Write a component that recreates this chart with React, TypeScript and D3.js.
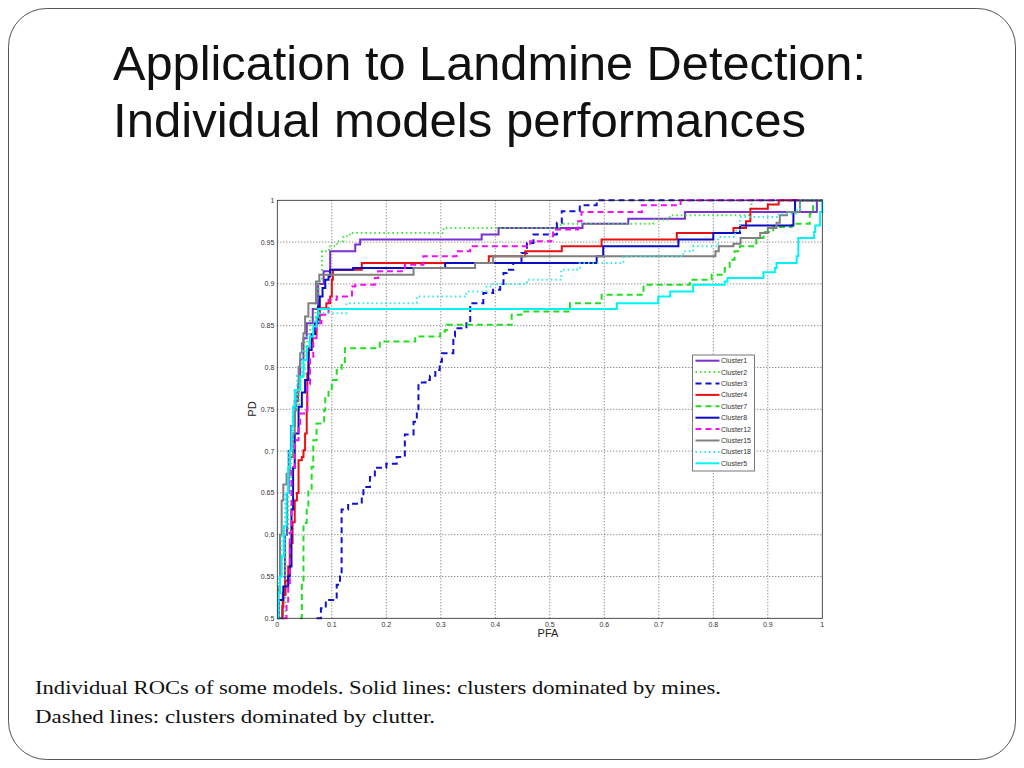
import React from 'react';
import * as d3 from 'd3';

type Pt = [number, number];

// ROC points: [PFA where the curve rises, PD after the rise]
const cluster1: Pt[] = [[0.005,0.5],[0.01,0.53],[0.014,0.6],[0.018,0.65],[0.021,0.7],[0.025,0.73],[0.032,0.76],[0.038,0.78],[0.042,0.81],[0.048,0.835],[0.054,0.853],[0.065,0.87],[0.075,0.9],[0.085,0.915],[0.097,0.939],[0.143,0.947],[0.152,0.953],[0.375,0.959],[0.406,0.967],[0.56,0.972],[0.644,0.978],[0.748,0.986],[0.99,1],[1,1]];
const cluster2: Pt[] = [[0.01,0.5],[0.015,0.6],[0.02,0.65],[0.025,0.7],[0.03,0.75],[0.04,0.79],[0.05,0.83],[0.06,0.86],[0.07,0.88],[0.076,0.903],[0.082,0.939],[0.095,0.945],[0.109,0.951],[0.121,0.957],[0.133,0.961],[0.305,0.967],[0.52,0.972],[0.69,0.977],[0.72,0.982],[0.868,0.99],[0.87,1],[1,1]];
const cluster3: Pt[] = [[0.072,0.5],[0.08,0.512],[0.089,0.522],[0.109,0.54],[0.115,0.55],[0.118,0.63],[0.13,0.637],[0.155,0.645],[0.158,0.657],[0.17,0.669],[0.179,0.68],[0.2,0.685],[0.219,0.693],[0.234,0.72],[0.25,0.735],[0.256,0.75],[0.259,0.782],[0.272,0.785],[0.28,0.79],[0.29,0.797],[0.298,0.807],[0.302,0.817],[0.323,0.837],[0.326,0.847],[0.347,0.853],[0.354,0.877],[0.378,0.889],[0.396,0.893],[0.409,0.9],[0.415,0.913],[0.421,0.917],[0.433,0.925],[0.448,0.937],[0.458,0.949],[0.47,0.959],[0.513,0.973],[0.522,0.987],[0.555,0.994],[0.586,1],[1,1]];
const cluster4: Pt[] = [[0.008,0.5],[0.009,0.514],[0.011,0.528],[0.015,0.545],[0.02,0.562],[0.023,0.59],[0.028,0.615],[0.032,0.641],[0.036,0.65],[0.039,0.689],[0.045,0.693],[0.048,0.701],[0.051,0.721],[0.054,0.749],[0.055,0.793],[0.058,0.825],[0.065,0.84],[0.072,0.855],[0.078,0.871],[0.09,0.877],[0.097,0.885],[0.1,0.905],[0.102,0.917],[0.155,0.925],[0.388,0.933],[0.455,0.939],[0.522,0.945],[0.595,0.953],[0.733,0.961],[0.837,0.967],[0.86,0.975],[0.868,0.99],[0.9,0.995],[0.92,1],[1,1]];
const cluster7: Pt[] = [[0.042,0.5],[0.045,0.54],[0.048,0.614],[0.054,0.633],[0.057,0.653],[0.063,0.681],[0.066,0.713],[0.072,0.733],[0.086,0.749],[0.088,0.765],[0.094,0.773],[0.1,0.785],[0.109,0.797],[0.118,0.803],[0.124,0.823],[0.188,0.831],[0.253,0.837],[0.299,0.843],[0.308,0.845],[0.311,0.851],[0.43,0.863],[0.448,0.867],[0.537,0.877],[0.595,0.887],[0.672,0.899],[0.757,0.905],[0.797,0.911],[0.821,0.919],[0.83,0.929],[0.839,0.939],[0.849,0.945],[0.879,0.955],[0.892,0.962],[0.91,0.968],[0.944,0.972],[0.977,0.984],[0.983,1],[1,1]];
const cluster8: Pt[] = [[0,0.5],[0.003,0.522],[0.011,0.538],[0.02,0.55],[0.023,0.562],[0.026,0.63],[0.029,0.68],[0.032,0.721],[0.039,0.753],[0.045,0.77],[0.051,0.785],[0.057,0.821],[0.063,0.84],[0.069,0.853],[0.075,0.873],[0.078,0.885],[0.083,0.895],[0.088,0.905],[0.094,0.909],[0.097,0.917],[0.139,0.919],[0.308,0.925],[0.586,0.933],[0.598,0.945],[0.736,0.953],[0.8,0.961],[0.849,0.97],[0.947,0.986],[0.95,1],[1,1]];
const cluster12: Pt[] = [[0.012,0.5],[0.017,0.52],[0.02,0.538],[0.023,0.602],[0.026,0.681],[0.032,0.713],[0.039,0.729],[0.042,0.745],[0.051,0.749],[0.055,0.78],[0.06,0.81],[0.066,0.835],[0.072,0.853],[0.081,0.863],[0.088,0.865],[0.094,0.881],[0.109,0.885],[0.137,0.897],[0.143,0.899],[0.179,0.907],[0.185,0.915],[0.234,0.923],[0.268,0.933],[0.329,0.939],[0.354,0.945],[0.464,0.951],[0.503,0.957],[0.506,0.965],[0.552,0.975],[0.558,0.986],[0.669,0.994],[0.74,1],[1,1]];
const cluster15: Pt[] = [[0,0.5],[0.002,0.538],[0.005,0.6],[0.008,0.641],[0.011,0.66],[0.017,0.673],[0.023,0.693],[0.029,0.721],[0.032,0.749],[0.035,0.77],[0.039,0.801],[0.042,0.817],[0.045,0.829],[0.048,0.841],[0.051,0.861],[0.057,0.877],[0.071,0.903],[0.077,0.911],[0.25,0.919],[0.363,0.925],[0.396,0.933],[0.804,0.939],[0.81,0.945],[0.837,0.948],[0.85,0.955],[0.886,0.961],[0.9,0.967],[0.916,0.973],[0.922,0.982],[0.935,0.986],[0.959,1],[1,1]];
const cluster18: Pt[] = [[0,0.5],[0.003,0.55],[0.008,0.6],[0.014,0.65],[0.02,0.7],[0.028,0.75],[0.036,0.79],[0.045,0.82],[0.055,0.84],[0.065,0.855],[0.078,0.865],[0.127,0.877],[0.256,0.885],[0.347,0.891],[0.384,0.897],[0.395,0.9],[0.458,0.905],[0.521,0.917],[0.55,0.919],[0.555,0.925],[0.635,0.933],[0.745,0.939],[0.763,0.945],[0.809,0.956],[0.84,0.964],[0.849,0.98],[0.92,0.984],[0.953,0.99],[0.96,1],[1,1]];
const cluster5: Pt[] = [[0,0.5],[0.002,0.53],[0.005,0.55],[0.008,0.574],[0.012,0.61],[0.017,0.65],[0.02,0.68],[0.023,0.701],[0.026,0.729],[0.029,0.753],[0.032,0.773],[0.042,0.789],[0.048,0.809],[0.054,0.825],[0.06,0.837],[0.066,0.849],[0.072,0.861],[0.075,0.87],[0.623,0.877],[0.699,0.885],[0.721,0.891],[0.763,0.899],[0.821,0.903],[0.826,0.907],[0.892,0.914],[0.913,0.919],[0.916,0.925],[0.953,0.933],[0.956,0.955],[0.985,0.962],[0.987,0.97],[0.996,0.986],[1,1]];

const seriesNames = ['Cluster1', 'Cluster2', 'Cluster3', 'Cluster4', 'Cluster7', 'Cluster8', 'Cluster12', 'Cluster15', 'Cluster18', 'Cluster5'];
const seriesValues = [cluster1, cluster2, cluster3, cluster4, cluster7, cluster8, cluster12, cluster15, cluster18, cluster5];

const xTickValues = [0, 0.1, 0.2, 0.3, 0.4, 0.5, 0.6, 0.7, 0.8, 0.9, 1];
const xTickLabels = ['0', '0.1', '0.2', '0.3', '0.4', '0.5', '0.6', '0.7', '0.8', '0.9', '1'];
const yTickValues = [0.5, 0.55, 0.6, 0.65, 0.7, 0.75, 0.8, 0.85, 0.9, 0.95, 1];
const yTickLabels = ['0.5', '0.55', '0.6', '0.65', '0.7', '0.75', '0.8', '0.85', '0.9', '0.95', '1'];

const lineStyle: Record<string, { color: string; dash: string }> = {
  Cluster1: { color: '#7a2fd0', dash: '' },
  Cluster2: { color: '#3be83b', dash: '1.5,3' },
  Cluster3: { color: '#1010d8', dash: '6,4' },
  Cluster4: { color: '#e81010', dash: '' },
  Cluster7: { color: '#22dd22', dash: '6,4' },
  Cluster8: { color: '#0c0cc0', dash: '' },
  Cluster12: { color: '#f010f0', dash: '6,4' },
  Cluster15: { color: '#808080', dash: '' },
  Cluster18: { color: '#30eaea', dash: '1.5,3' },
  Cluster5: { color: '#00f4f4', dash: '' },
};

const App: React.FC = () => {
  const left = 277.3, right = 822.3, top = 200.3, bottom = 618.3;
  const x = d3.scaleLinear().domain([0, 1]).range([left, right]);
  const y = d3.scaleLinear().domain([0.5, 1]).range([bottom, top]);
  const line = d3.line<Pt>()
    .x(d => x(d[0]))
    .y(d => y(d[1]))
    .curve(d3.curveStepAfter);

  const legX = 692.5, legY = 355, legW = 62, legH = 116;
  const rowH = 11.4;

  return (
    <svg width={1024} height={768} style={{ position: 'absolute', left: 0, top: 0 }}>
      <rect x={0} y={0} width={1024} height={768} fill="#fff" />
      <rect x={8.5} y={8.5} width={1007} height={751} rx={38} ry={38} fill="none" stroke="#555" strokeWidth={1} />

      <g fontFamily="'Liberation Sans Narrow', 'Liberation Sans', Arial, sans-serif" fill="#111" fontSize={48}>
        <text x={113} y={80} textLength={753} lengthAdjust="spacingAndGlyphs">Application to Landmine Detection:</text>
        <text x={113} y={137} textLength={693} lengthAdjust="spacingAndGlyphs">Individual models performances</text>
      </g>

      <g clipPath="url(#plotClip)">
        <defs>
          <clipPath id="plotClip">
            <rect x={left - 2} y={top - 2} width={right - left + 4} height={bottom - top + 4} />
          </clipPath>
        </defs>
        {xTickValues.slice(1, -1).map(v => (
          <line key={'gx' + v} x1={x(v)} x2={x(v)} y1={top} y2={bottom} stroke="#444" strokeWidth={0.8} strokeDasharray="1,2" />
        ))}
        {yTickValues.slice(1, -1).map(v => (
          <line key={'gy' + v} x1={left} x2={right} y1={y(v)} y2={y(v)} stroke="#444" strokeWidth={0.8} strokeDasharray="1,2" />
        ))}
        {seriesValues.map((pts, i) => {
          const st = lineStyle[seriesNames[i]];
          return (
            <path key={seriesNames[i]} d={line(pts) || ''} fill="none" stroke={st.color}
              strokeWidth={2} strokeDasharray={st.dash || undefined} />
          );
        })}
      </g>
      <rect x={left} y={top} width={right - left} height={bottom - top} fill="none" stroke="#222" strokeWidth={0.8} />

      <g fontFamily="'Liberation Sans', Arial, sans-serif" fontSize={7} fill="#333">
        {xTickValues.map((v, i) => (
          <text key={'tx' + v} x={x(v)} y={627} textAnchor="middle">{xTickLabels[i]}</text>
        ))}
        {yTickValues.map((v, i) => (
          <text key={'ty' + v} x={left - 3} y={y(v) + 2.4} textAnchor="end">{yTickLabels[i]}</text>
        ))}
      </g>
      <text x={548} y={637} textAnchor="middle" fontFamily="'Liberation Sans', Arial, sans-serif" fontSize={11} fill="#222">PFA</text>
      <text transform="translate(256,409) rotate(-90)" textAnchor="middle" fontFamily="'Liberation Sans', Arial, sans-serif" fontSize={11} fill="#222">PD</text>

      <g>
        <rect x={legX} y={legY} width={legW} height={legH} fill="#fff" stroke="#777" strokeWidth={1} />
        {seriesNames.map((name, i) => {
          const st = lineStyle[name];
          const ry = legY + 5.7 + i * rowH;
          return (
            <g key={'leg' + name}>
              <line x1={legX + 3} x2={legX + 27} y1={ry} y2={ry} stroke={st.color} strokeWidth={2} strokeDasharray={st.dash || undefined} />
              <text x={legX + 28.5} y={ry + 2.4} fontFamily="'Liberation Sans', Arial, sans-serif" fontSize={7} fill="#333">{name}</text>
            </g>
          );
        })}
      </g>

      <g fontFamily="'Liberation Serif', 'Times New Roman', serif" fontSize={19} fill="#111">
        <text x={35} y={694} textLength={686} lengthAdjust="spacingAndGlyphs">Individual ROCs of some models. Solid lines: clusters dominated by mines.</text>
        <text x={35} y={723} textLength={400} lengthAdjust="spacingAndGlyphs">Dashed lines: clusters dominated by clutter.</text>
      </g>
    </svg>
  );
};

export default App;
